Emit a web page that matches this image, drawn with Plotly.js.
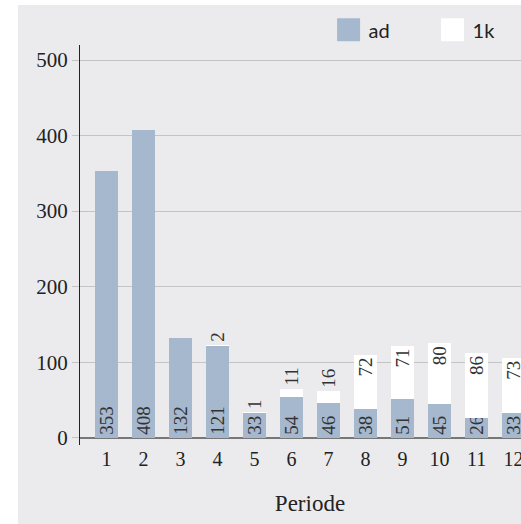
<!DOCTYPE html>
<html>
<head>
<meta charset="utf-8">
<script src="https://cdn.plot.ly/plotly-3.0.1.min.js"></script>
<style>
html,body{margin:0;padding:0;background:#ffffff;overflow:hidden;width:521px;height:524px;}
#bg{position:absolute;left:18px;top:5px;width:503px;height:519px;background:#ebebee;}
#chart{position:absolute;left:18px;top:5px;width:522px;height:519px;}
</style>
</head>
<body>
<div id="bg"></div>
<div id="chart"></div>
<script>
var periods = ['1','2','3','4','5','6','7','8','9','10','11','12'];
var adValues = [353, 408, 132, 121, 33, 54, 46, 38, 51, 45, 26, 33];
var kValues = [0, 0, 0, 2, 1, 11, 16, 72, 71, 80, 86, 73];
var seriesNames = ['ad', '1k'];
var xTitle = 'Periode';
var yTicks = [0, 100, 200, 300, 400, 500];

var xNum = periods.map(function(p){ return Number(p); });
function labels(vals){ return vals.map(function(v){ return v > 0 ? String(v) : ''; }); }
function positions(vals){ return vals.map(function(v){ return v >= 30 ? 'inside' : 'outside'; }); }

var serif = 'Liberation Serif, DejaVu Serif, serif';
var textFont = {family: serif, size: 19, color: '#333333'};

var traces = [
  {
    type: 'bar', name: seriesNames[0], x: xNum, y: adValues,
    text: labels(adValues), textposition: 'inside', insidetextanchor: 'start',
    textangle: -90, textfont: textFont, insidetextfont: textFont, constraintext: 'none',
    marker: {color: '#a6b8ce', line: {width: 0}}, hoverinfo: 'none', cliponaxis: false
  },
  {
    type: 'bar', name: seriesNames[1], x: xNum, y: kValues,
    text: labels(kValues), textposition: positions(kValues), insidetextanchor: 'end',
    textangle: -90, textfont: textFont, insidetextfont: textFont, outsidetextfont: textFont,
    constraintext: 'none',
    marker: {color: '#ffffff', line: {width: 0}}, hoverinfo: 'none', cliponaxis: false
  }
];

var layout = {
  width: 522, height: 519,
  margin: {l: 62, r: 0, t: 40, b: 79, pad: 0, autoexpand: false},
  paper_bgcolor: 'rgba(0,0,0,0)', plot_bgcolor: 'rgba(0,0,0,0)',
  barmode: 'stack', bargap: 0.38,
  showlegend: true,
  legend: {
    orientation: 'h', xref: 'container', yref: 'container', x: 0.595, y: 0.99, xanchor: 'left', yanchor: 'top',
    font: {family: 'Lato, Open Sans, sans-serif', size: 20, color: '#222222'},
    bgcolor: 'rgba(0,0,0,0)', entrywidth: 59, entrywidthmode: 'pixels', traceorder: 'normal'
  },
  xaxis: {
    type: 'linear', range: [0.284, 12.716],
    tickvals: xNum, ticktext: periods, ticks: '', showgrid: false, zeroline: false,
    showline: false,
    tickfont: {family: serif, size: 20, color: '#222222'},
    title: {text: xTitle, font: {family: serif, size: 23, color: '#222222'}, standoff: 25}
  },
  yaxis: {
    range: [-9.7, 520], tickvals: yTicks, ticks: 'outside', ticklen: 7, tickwidth: 1,
    tickcolor: '#c4c4c4', gridcolor: '#c4c4c4', gridwidth: 1,
    zeroline: true, zerolinecolor: '#777777', zerolinewidth: 2,
    showline: true, linecolor: '#222222', linewidth: 1,
    tickfont: {family: serif, size: 21, color: '#222222'}
  },
  font: {family: serif}
};

Plotly.newPlot('chart', traces, layout, {staticPlot: true, displayModeBar: false}).then(function(){
  document.querySelectorAll('.legendpoints path').forEach(function(p){
    p.setAttribute('d', 'M11.5,11.5H-11.5V-11.5H11.5Z');
  });
});
</script>
</body>
</html>
